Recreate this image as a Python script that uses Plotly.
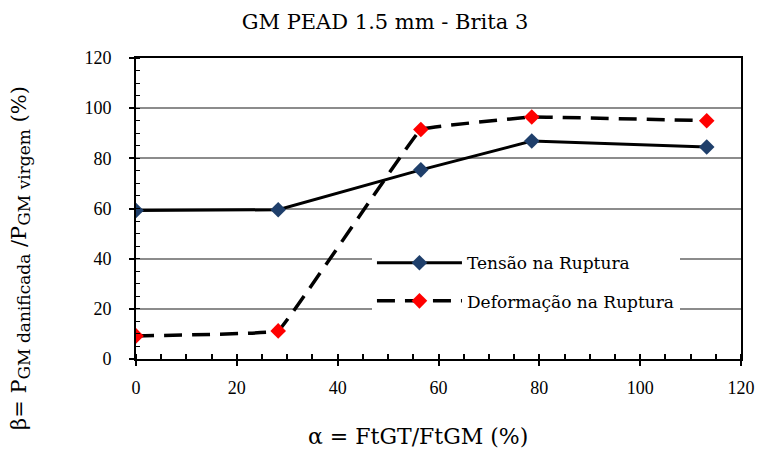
import plotly.graph_objects as go

alpha = [0, 28.2, 56.5, 78.5, 113.2]
tensao = [59.2, 59.5, 75.4, 86.9, 84.5]
deformacao = [9.2, 11.2, 91.5, 96.5, 95.0]

name_tensao = "Tensão na Ruptura"
name_deform = "Deformação na Ruptura"
title_text = "GM PEAD 1.5 mm - Brita 3"
x_title = "α = FtGT/FtGM (%)"
y_title = ("β= P<sub><span style='font-size:17px'>GM danificada</span></sub> /"
           "P<sub><span style='font-size:17px'>GM virgem</span></sub> (%)")

SERIF = "DejaVu Serif"
TICKF = "Liberation Serif"

fig = go.Figure()
fig.add_trace(go.Scatter(
    x=alpha, y=tensao, name=name_tensao, mode="lines+markers",
    line=dict(color="black", width=3),
    marker=dict(symbol="diamond", size=12, color="#1F3F6B"),
    legendgroup="a",
))
fig.add_trace(go.Scatter(
    x=alpha, y=deformacao, name=name_deform, mode="lines+markers",
    line=dict(color="black", width=3.5, dash="18px,10px", shape="spline", smoothing=0.12),
    marker=dict(symbol="diamond", size=12, color="#FF0000"),
    legendgroup="b",
))

fig.update_layout(
    width=770, height=452,
    margin=dict(l=136, r=29, t=58, b=93),
    paper_bgcolor="white", plot_bgcolor="white",
    font=dict(family=SERIF, color="black"),
    title=dict(text=title_text, x=0.5, xanchor="center", y=0.952, yanchor="middle",
               font=dict(family=SERIF, size=21, color="black")),
    showlegend=True,
    legend=dict(x=0.39, y=0.378, xanchor="left", yanchor="top",
                bgcolor="white", borderwidth=0, tracegroupgap=13, itemwidth=85,
                font=dict(family=SERIF, size=17, color="black")),
    annotations=[
        dict(text=y_title, textangle=-90, xref="paper", yref="paper",
             x=-0.192, y=0.335, xanchor="center", yanchor="middle", showarrow=False,
             font=dict(family=SERIF, size=21, color="black")),
        dict(text=x_title, xref="paper", yref="paper",
             x=0.466, y=-0.259, xanchor="center", yanchor="middle", showarrow=False,
             font=dict(family=SERIF, size=22, color="black")),
    ],
)
fig.update_xaxes(
    range=[0, 120], dtick=20, tick0=0, automargin=False,
    showline=True, linecolor="black", linewidth=2, mirror=True,
    showgrid=False, zeroline=False,
    ticks="outside", ticklen=5, tickwidth=2, tickcolor="black",
    minor=dict(dtick=5, ticks="inside", ticklen=5, tickwidth=2, tickcolor="black", showgrid=False),
    tickfont=dict(family=TICKF, size=18, color="black"),
    ticklabelstandoff=6,
)
fig.update_yaxes(
    range=[0, 120], dtick=20, tick0=0, automargin=False,
    showline=True, linecolor="black", linewidth=2, mirror=True,
    showgrid=True, gridcolor="#8C8C8C", gridwidth=1.5, zeroline=False,
    ticks="outside", ticklen=5, tickwidth=1.5, tickcolor="black",
    minor=dict(dtick=5, ticks="inside", ticklen=4, tickwidth=1, tickcolor="black", showgrid=False),
    tickfont=dict(family=TICKF, size=18, color="black"),
    ticklabelstandoff=14,
)

fig.write_html("out.html")
